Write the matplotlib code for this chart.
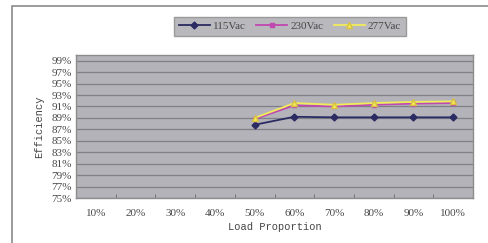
import matplotlib
matplotlib.use("Agg")
import matplotlib.pyplot as plt
from matplotlib.patches import Rectangle
from matplotlib.ticker import FixedLocator

# load steps and measured efficiency (%)
loads = ["10%", "20%", "30%", "40%", "50%", "60%", "70%", "80%", "90%", "100%"]
eff_115 = [None, None, None, None, 87.8, 89.2, 89.1, 89.1, 89.1, 89.1]
eff_230 = [None, None, None, None, 88.8, 91.2, 91.0, 91.3, 91.5, 91.6]
eff_277 = [None, None, None, None, 89.0, 91.6, 91.3, 91.6, 91.8, 91.9]
yticks = list(range(75, 100, 2))

serif = "Liberation Serif"
mono = "Liberation Mono"

fig = plt.figure(figsize=(4.88, 2.43), dpi=100)
fig.patch.set_facecolor("white")

# outer chart frame (only left and top edges visible)
fig.patches.append(Rectangle((12 / 488, -0.1), 1.2, 1 - 6 / 243 + 0.1,
                             transform=fig.transFigure, fill=False,
                             edgecolor="#8a8a8a", linewidth=1.2))

ax = fig.add_axes([76 / 488, 1 - 198 / 243, (473 - 76) / 488, (198 - 55) / 243])
ax.set_facecolor("#b3b3b9")

def pts(vals):
    xs = [i for i, v in enumerate(vals) if v is not None]
    ys = [v for v in vals if v is not None]
    return xs, ys

x, y = pts(eff_115)
ax.plot(x, y, color="#2b2b63", marker="D", markersize=3.5, linewidth=1.3,
        label="115Vac", zorder=3)
x, y = pts(eff_230)
ax.plot(x, y, color="#c048b0", marker="s", markersize=3.5, linewidth=1.3,
        label="230Vac", zorder=4)
x, y = pts(eff_277)
ax.plot(x, y, color="#f2ec5a", marker="^", markersize=5,
        markeredgecolor="#d8c040", linewidth=1.3, label="277Vac", zorder=5)

ax.set_xlim(-0.5, 9.5)
ax.set_ylim(75, 100)
ax.set_yticks(yticks)
ax.set_yticklabels([f"{v}%" for v in yticks], fontfamily=serif, fontsize=8,
                   color="#484848")
ax.yaxis.grid(True, color="#7f7f86", linewidth=0.9)
ax.set_axisbelow(True)

ax.set_xticks(range(len(loads)))
ax.set_xticklabels(loads, fontfamily=serif, fontsize=8, color="#484848")
ax.xaxis.set_minor_locator(FixedLocator([i + 0.5 for i in range(9)]))
ax.tick_params(axis="x", which="major", length=0, pad=8)
ax.tick_params(axis="x", which="minor", direction="in", length=3,
               color="#6a6a6a")
ax.tick_params(axis="y", length=0, pad=3)

for s in ax.spines.values():
    s.set_color("#8c8c8c")
    s.set_linewidth(1.0)

ax.set_xlabel("Load Proportion", fontfamily=mono, fontsize=7.5,
              color="#444444", labelpad=3)
ax.set_ylabel("Efficiency", fontfamily=mono, fontsize=7.5,
              color="#444444", labelpad=5)

leg = fig.legend(loc="center", bbox_to_anchor=(290 / 488, 1 - 26.5 / 243),
                 ncol=3, frameon=True, fancybox=False,
                 prop={"family": serif, "size": 8},
                 handlelength=2.8, columnspacing=0.9, handletextpad=0.3,
                 borderpad=0.45)
leg.get_frame().set_facecolor("#b9b9bd")
leg.get_frame().set_edgecolor("#9a9a9a")
leg.get_frame().set_alpha(1)
for t in leg.get_texts():
    t.set_color("#484848")

fig.savefig("out.png", dpi=100)
